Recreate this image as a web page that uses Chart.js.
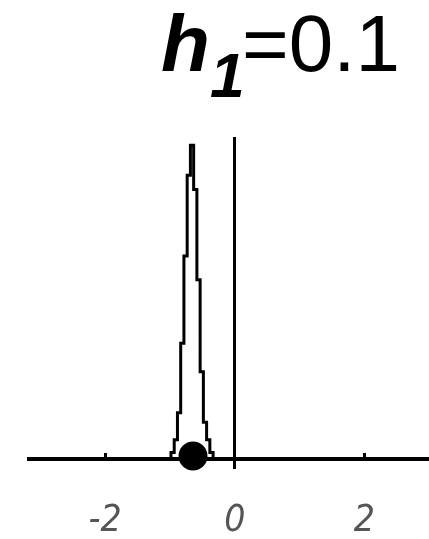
<!DOCTYPE html>
<html>
<head>
<meta charset="utf-8">
<script src="https://cdn.jsdelivr.net/npm/chart.js@4"></script>
<style>
  html, body { margin: 0; padding: 0; background: #fff; overflow: hidden; }
  #wrap { position: relative; width: 429px; height: 539px; overflow: hidden; }
  #chart { display: block; width: 429px; height: 539px; }
  #title {
    position: absolute; left: 161px; top: 4px; white-space: nowrap;
    font-family: "Liberation Sans", Arial, sans-serif; font-size: 80px; color: #000;
    line-height: 1;
  }
  #title .h { font-weight: bold; font-style: italic; }
  #title .sub { display: inline-block; font-weight: bold; font-style: italic; font-size: 0.78em;
    position: relative; top: 0.42em; margin-right: -0.04em; }
</style>
</head>
<body>
<div id="wrap">
  <canvas id="chart" width="429" height="539"></canvas>
  <div id="title"><span class="h">h</span><span class="sub">1</span>=0.1</div>
</div>
<script>
"use strict";

// histogram of the sampled values: 13 bins of width 0.05
const BIN_START = -0.985;
const BIN_WIDTH = 0.05;
const COUNTS = [4, 12, 29, 73, 128, 179, 198, 170, 113, 55, 23, 12, 4];

// the estimate (black dot) on the axis
const POINT_X = -0.645;
const POINT_Y = 1.7;

const X_TICKS = [-2, 0, 2];
const X_MIN = -3.176, X_MAX = 2.997;
const Y_MIN = -6.5, Y_MAX = 203.2;

// outline points: step up at each left edge, back to 0 at the end
function histPoints() {
  const pts = [{ x: BIN_START, y: 0 }];
  COUNTS.forEach((c, i) => pts.push({ x: BIN_START + (i + 1) * BIN_WIDTH, y: c }));
  pts.push({ x: BIN_START + COUNTS.length * BIN_WIDTH, y: 0 });
  return pts;
}

new Chart(document.getElementById("chart"), {
  type: "line",
  data: {
    datasets: [
      {
        data: histPoints(), stepped: "after", borderColor: "#000", borderWidth: 3,
        pointRadius: 0, fill: false, clip: false,
      },
      {
        type: "scatter", data: [{ x: POINT_X, y: POINT_Y }],
        pointRadius: 14.5, backgroundColor: "#000", borderColor: "#000", borderWidth: 0, clip: false,
      },
    ],
  },
  options: {
    responsive: false, animation: false, devicePixelRatio: 1,
    // big dot would otherwise add auto padding on the right
    layout: { autoPadding: false, padding: { top: 137, left: 29, right: 0, bottom: 70 } },
    plugins: { legend: { display: false }, tooltip: { enabled: false }, title: { display: false } },
    scales: {
      x: {
        type: "linear", min: X_MIN, max: X_MAX, position: { y: 0 },
        afterBuildTicks: (s) => { s.ticks = X_TICKS.map((v) => ({ value: v })); },
        afterFit: (s) => { s.paddingLeft = 0; s.paddingRight = 0; },
        border: { display: true, color: "#000", width: 4 },
        grid: {
          drawOnChartArea: true, tickLength: -8, tickWidth: 3, tickColor: "#000", lineWidth: 3,
          color: (c) => (c.tick && c.tick.value === 0 ? "#000" : "rgba(0,0,0,0)"),
        },
        ticks: {
          color: "#555", padding: 48, maxRotation: 0,
          font: { family: "'Liberation Sans Narrow', 'DejaVu Sans Condensed', sans-serif", size: 37, style: "italic" },
          callback: (v) => String(v),
        },
      },
      y: { type: "linear", min: Y_MIN, max: Y_MAX, display: false },
    },
  },
});
</script>
</body>
</html>
